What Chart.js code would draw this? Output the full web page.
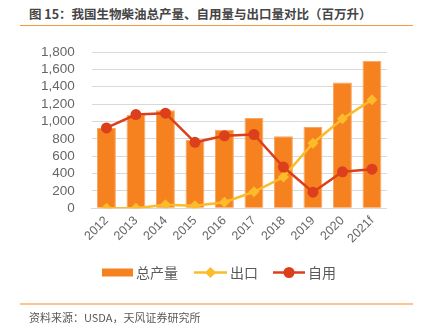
<!DOCTYPE html>
<html lang="zh">
<head>
<meta charset="utf-8">
<script src="https://cdn.jsdelivr.net/npm/chart.js@4.4.0/dist/chart.umd.min.js"></script>
<style>
  html, body { margin: 0; padding: 0; background: #fff; }
  #wrap { position: relative; width: 421px; height: 332px; overflow: hidden; }
  #chart { position: absolute; left: 0; top: 0; }
  #title {
    position: absolute; left: 29px; top: 4px; line-height: 17px;
    font: bold 12.5px "Noto Sans CJK SC", sans-serif; color: #454545; white-space: nowrap;
  }
  #source {
    position: absolute; left: 29px; top: 309px; line-height: 15px;
    font: 11px "Noto Sans CJK SC", sans-serif; color: #595959; white-space: nowrap;
  }
  .rule { position: absolute; left: 20px; width: 393px; }
  #rule-top { top: 25px; height: 1px; background: #F59A3D; }
  #rule-bottom { top: 303px; height: 1.5px; background: #FAC590; }
</style>
</head>
<body>
<div id="wrap">
  <div id="title">图 15：我国生物柴油总产量、自用量与出口量对比（百万升）</div>
  <div class="rule" id="rule-top"></div>
  <canvas id="chart" width="421" height="332"></canvas>
  <div class="rule" id="rule-bottom"></div>
  <div id="source">资料来源：USDA，天风证券研究所</div>
</div>
<script>
const years = ['2012', '2013', '2014', '2015', '2016', '2017', '2018', '2019', '2020', '2021f'];
const totalOutput = [925, 1075, 1130, 790, 905, 1040, 830, 935, 1450, 1700];
const exportVol = [0, 0, 40, 30, 70, 190, 360, 750, 1030, 1250];
const domesticUse = [925, 1080, 1095, 760, 835, 850, 475, 185, 420, 450];
const yTicks = [0, 200, 400, 600, 800, 1000, 1200, 1400, 1600, 1800];

const ORANGE = '#F5821F';
const YELLOW = '#FBBB2B';
const RED = '#DC3F1C';
const GRID = '#D9D9D9';
const TEXT = '#595959';
const FONT = '"Liberation Sans", "Noto Sans CJK SC", sans-serif';

// legend drawn under the axis: bar swatch, then line+marker swatches
const bottomLegend = {
  id: 'bottomLegend',
  afterDraw(chart) {
    const ctx = chart.ctx;
    const y = 272.5;
    ctx.save();
    ctx.font = '14px "Noto Sans CJK SC", sans-serif';
    ctx.textBaseline = 'middle';

    // 总产量
    ctx.fillStyle = ORANGE;
    ctx.fillRect(102, y - 4, 31, 8);
    ctx.fillStyle = TEXT;
    ctx.fillText(chart.data.datasets[0].label, 136, y);

    // 出口
    ctx.strokeStyle = YELLOW;
    ctx.lineWidth = 2.5;
    ctx.beginPath(); ctx.moveTo(194, y); ctx.lineTo(227, y); ctx.stroke();
    ctx.fillStyle = YELLOW;
    ctx.beginPath();
    ctx.moveTo(210.5, y - 5.5); ctx.lineTo(216, y); ctx.lineTo(210.5, y + 5.5); ctx.lineTo(205, y);
    ctx.closePath(); ctx.fill();
    ctx.fillStyle = TEXT;
    ctx.fillText(chart.data.datasets[1].label, 230, y);

    // 自用
    ctx.strokeStyle = RED;
    ctx.beginPath(); ctx.moveTo(273, y); ctx.lineTo(305, y); ctx.stroke();
    ctx.fillStyle = RED;
    ctx.beginPath(); ctx.arc(289, y, 5.5, 0, Math.PI * 2); ctx.fill();
    ctx.fillStyle = TEXT;
    ctx.fillText(chart.data.datasets[2].label, 308, y);
    ctx.restore();
  }
};

new Chart(document.getElementById('chart'), {
  type: 'bar',
  data: {
    labels: years,
    datasets: [
      {
        label: '总产量',
        data: totalOutput,
        backgroundColor: ORANGE,
        borderColor: '#F8A764',
        borderWidth: 1,
        barPercentage: 0.64,
        categoryPercentage: 1,
        order: 3
      },
      {
        type: 'line',
        label: '出口',
        data: exportVol,
        borderColor: YELLOW,
        backgroundColor: YELLOW,
        borderWidth: 2.5,
        pointStyle: 'rectRot',
        pointRadius: 5.5,
        pointBorderWidth: 0,
        tension: 0,
        order: 2
      },
      {
        type: 'line',
        label: '自用',
        data: domesticUse,
        borderColor: RED,
        backgroundColor: RED,
        borderWidth: 2.5,
        pointStyle: 'circle',
        pointRadius: 5.5,
        pointBorderWidth: 0,
        tension: 0,
        order: 1
      }
    ]
  },
  options: {
    responsive: false,
    animation: false,
    layout: { padding: { left: 30, right: 34.3, top: 52, bottom: 73.7 } },
    plugins: {
      legend: { display: false },
      tooltip: { enabled: false }
    },
    scales: {
      x: {
        grid: { display: false, drawTicks: false },
        border: { color: GRID, width: 1 },
        ticks: {
          color: '#666666',
          font: { family: FONT, size: 12.5 },
          minRotation: 45,
          maxRotation: 45,
          autoSkip: false,
          padding: 5
        },
        afterFit: s => { s.height = 50; }
      },
      y: {
        min: 0,
        max: 1800,
        grid: { color: GRID, lineWidth: 1, drawTicks: false },
        border: { display: false },
        afterBuildTicks: s => { s.ticks = yTicks.map(v => ({ value: v })); },
        ticks: {
          color: '#666666',
          font: { family: FONT, size: 13.5 },
          padding: 17,
          autoSkip: false,
          callback: v => v.toLocaleString('en-US')
        },
        afterFit: s => { s.width = 61.7; }
      }
    }
  },
  plugins: [bottomLegend]
});
</script>
</body>
</html>
